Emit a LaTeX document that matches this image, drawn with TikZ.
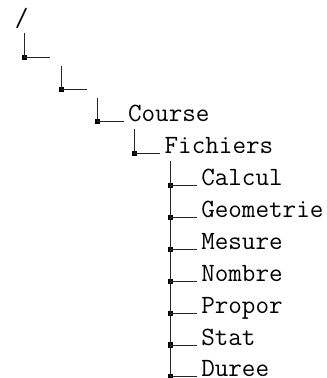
\documentclass[tikz,border=0pt]{standalone}
\usepackage{fontspec}
\usepackage{tikz}
\usetikzlibrary{calc}
\tikzset{
  entry/.style={font=\fontsize{20.5}{24}\selectfont\ttfamily, inner xsep=3.2pt, inner ysep=0pt, text depth=0pt, anchor=base west},
  corner/.style={fill=black, inner sep=0pt, minimum size=4pt},
  branch/.style={line width=0.75pt, black!85}
}
\begin{document}
\begin{tikzpicture}[x=1cm, y=0.8716cm]
\useasboundingbox (-0.669,0.815) rectangle (8.265,-11.034);
% ===== root =====
\node[entry, anchor=base] (n0) at (-0.08,0) {/};
% ===== chain of single folders, one step right and down each =====
\foreach \lbl [count=\j] in {{},{},Course,Fichiers}{
  \pgfmathtruncatemacro{\p}{\j-1}
  \node[corner] (k\j) at (\j-1,-\j) {};
  \node[entry] (n\j) at ([xshift=0.71cm]k\j.center) {\lbl};
  \draw[branch, shorten <=5.4pt] (k\j |- n\p.south) -- (k\j.center) -- (n\j.base west);
}
% ===== contents of Fichiers =====
\foreach \lbl [count=\i] in {Calcul,Geometrie,Mesure,Nombre,Propor,Stat,Duree}{
  \pgfmathtruncatemacro{\r}{4+\i}
  \node[corner] (c\i) at (4,-\r) {};
  \node[entry] (f\i) at ([xshift=0.71cm]c\i.center) {\lbl};
  \draw[branch] (c\i.center) -- (f\i.base west);
}
\draw[branch, shorten <=5.4pt] (c1 |- n4.south) -- (c7.center);
\end{tikzpicture}
\end{document}
